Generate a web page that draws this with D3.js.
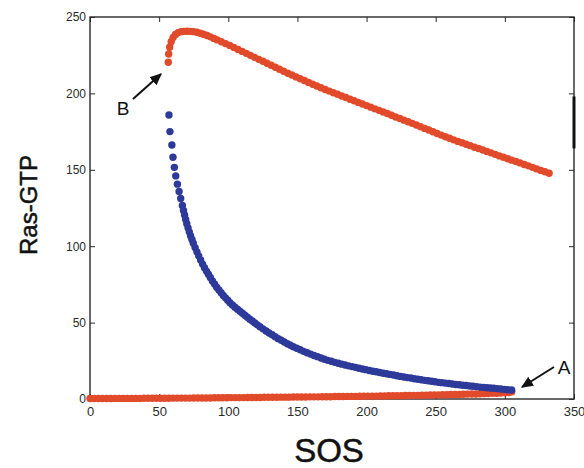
<!DOCTYPE html>
<html>
<head>
<meta charset="utf-8">
<script src="https://cdn.jsdelivr.net/npm/d3@7"></script>
<style>
  html, body { margin: 0; padding: 0; background: #fff; }
  svg { display: block; }
  text { font-family: "Liberation Sans", Arial, sans-serif; }
</style>
</head>
<body>
<svg id="chart" width="584" height="468"></svg>
<script>
// Steady-state Ras-GTP versus SOS: two stable branches (red) and the unstable branch (blue)
const xTicks = [0, 50, 100, 150, 200, 250, 300, 350];
const yTicks = [0, 50, 100, 150, 200, 250];

// Upper stable branch (high Ras-GTP), starting at the fold point B
const upperSOS = [56.6, 56.9, 57.6, 58.7, 60.1, 61.8, 63.7, 65.8, 68.0, 70.3, 72.6, 74.9, 77.3, 79.7, 82.1, 84.6, 87.1, 89.6, 92.0,
  95, 98, 101, 104, 107, 110, 113, 116, 119, 122, 125, 128, 131, 134, 137, 140, 143, 146, 149, 152, 155, 158, 161, 164,
  167, 170, 173, 176, 179, 182, 185, 188, 191, 194, 197, 200, 203, 206, 209, 212, 215, 218, 221, 224, 227, 230, 233, 236,
  239, 242, 245, 248, 251, 254, 257, 260, 263, 266, 269, 272, 275, 278, 281, 284, 287, 290, 293, 296, 299, 302, 305, 308,
  311, 314, 317, 320, 323, 326, 329, 332];
const upperRas = [220.4, 225.8, 230.2, 233.8, 236.6, 238.6, 239.8, 240.4, 240.6, 240.7, 240.6, 240.4, 240.0, 239.4, 238.7, 237.9, 237.0, 236.0, 235.0,
  233.8, 232.6, 231.4, 230.1, 228.8, 227.5, 226.2, 224.9, 223.6, 222.3, 221.0, 219.7, 218.4, 217.1, 215.8, 214.5, 213.2, 212.0, 210.8, 209.6, 208.4, 207.2, 206.0, 204.8,
  203.7, 202.6, 201.5, 200.4, 199.4, 198.3, 197.3, 196.2, 195.2, 194.1, 193.1, 192.0, 191.0, 189.9, 188.9, 187.8, 186.8, 185.7, 184.6, 183.6, 182.5, 181.4, 180.4, 179.3,
  178.2, 177.1, 176.0, 174.9, 173.8, 172.7, 171.6, 170.6, 169.6, 168.6, 167.7, 166.7, 165.8, 164.8, 163.9, 163.0, 162.0, 161.1, 160.1, 159.1, 158.2, 157.2, 156.3, 155.4,
  154.5, 153.5, 152.6, 151.6, 150.6, 149.6, 148.7, 147.7];

// Unstable middle branch, from B down to the fold point A
const middleSOS = [57.1, 57.8, 59.2, 60.0, 61.0, 62.0, 63.2, 64.4, 65.6, 66.8, 67.6, 68.4, 69.2, 70.0, 70.9, 71.8, 72.7, 73.7, 74.7,
  76.0, 77.3, 78.6, 80.0, 81.4, 82.8, 84.2, 85.6, 87.0, 88.5, 90.0, 91.6, 93.2, 94.8, 96.4, 98.0, 99.6, 101.2,
  103.0, 104.8, 106.6, 108.4, 110.2, 112.0, 113.8, 115.6, 117.4, 119.2, 121.0, 122.9, 125.1, 127.3, 129.5, 131.7, 133.9, 136.1,
  138.3, 140.5, 142.7, 144.9, 147.0, 149.5, 152.0, 154.5, 157.0, 159.5, 162.0, 164.5, 167.0, 169.5, 172.0, 174.5, 177.0, 179.5,
  182.0, 184.5, 187.0, 189.5, 192.0, 194.5, 197.0, 199.5, 202.0, 204.5, 207.0, 209.5, 212.0, 214.5, 217.0, 219.5, 222.0, 224.5,
  227.0, 229.5, 232.0, 234.5, 237.0, 239.5, 242.0, 244.5, 247.0, 249.5, 252.0, 254.5, 257.0, 259.5, 262.0, 264.5, 267.0, 269.5,
  272.0, 274.5, 277.0, 279.5, 282.0, 284.5, 287.0, 289.5, 292.0, 294.5, 297.0, 299.5, 302.0, 304.9];
const middleRas = [185.9, 175.0, 166.2, 158.2, 151.6, 146.0, 140.6, 135.8, 131.2, 126.6, 123.4, 120.4, 117.5, 114.7, 112.0, 109.4, 106.9, 104.4, 101.9,
  99.1, 96.3, 93.7, 91.0, 88.3, 85.9, 83.7, 81.6, 79.5, 77.3, 75.3, 73.1, 71.3, 69.5, 67.8, 66.2, 64.6, 63.0,
  61.5, 60.1, 58.7, 57.4, 56.1, 54.8, 53.5, 52.2, 51.0, 49.7, 48.5, 47.3, 45.9, 44.5, 43.2, 42.0, 40.7, 39.5,
  38.4, 37.3, 36.2, 35.2, 34.2, 33.2, 32.2, 31.2, 30.3, 29.4, 28.5, 27.7, 26.8, 26.0, 25.3, 24.7, 24.0, 23.4,
  22.8, 22.3, 21.7, 21.2, 20.7, 20.1, 19.6, 19.2, 18.7, 18.2, 17.8, 17.3, 16.9, 16.5, 16.1, 15.7, 15.2, 14.8,
  14.4, 14.0, 13.7, 13.3, 12.9, 12.6, 12.2, 11.9, 11.6, 11.3, 10.9, 10.7, 10.4, 10.1, 9.8, 9.5, 9.3, 9.0,
  8.8, 8.5, 8.3, 8.1, 7.8, 7.6, 7.4, 7.2, 7.0, 6.8, 6.5, 6.3, 6.1, 5.9];

// Lower stable branch (low Ras-GTP), from SOS = 0 up to A
const lowerSOS = [0, 3, 6, 9, 12, 15, 18, 21, 24, 27, 30,
  33, 36, 39, 42, 45, 48, 51, 54, 57, 60,
  63, 66, 69, 72, 75, 78, 81, 84, 87, 90,
  93, 96, 99, 102, 105, 108, 111, 114, 117, 120,
  123, 126, 129, 132, 135, 138, 141, 144, 147, 150,
  153, 156, 159, 162, 165, 168, 171, 174, 177, 180,
  183, 186, 189, 192, 195, 198, 201, 204, 207, 210,
  213, 216, 219, 222, 225, 228, 231, 234, 237, 240,
  243, 246, 249, 252, 255, 258, 261, 264, 267, 270,
  273, 276, 279, 282, 285, 288, 291, 294, 297, 300,
  303, 305];
const lowerRas = [0.3, 0.3, 0.3, 0.3, 0.3, 0.3, 0.4, 0.4, 0.4, 0.4, 0.4,
  0.4, 0.4, 0.5, 0.5, 0.5, 0.5, 0.5, 0.5, 0.5, 0.6,
  0.6, 0.6, 0.6, 0.6, 0.7, 0.7, 0.7, 0.7, 0.7, 0.8,
  0.8, 0.8, 0.8, 0.9, 0.9, 0.9, 0.9, 1.0, 1.0, 1.0,
  1.0, 1.1, 1.1, 1.1, 1.1, 1.2, 1.2, 1.2, 1.3, 1.3,
  1.3, 1.3, 1.4, 1.4, 1.4, 1.5, 1.5, 1.5, 1.6, 1.6,
  1.6, 1.7, 1.7, 1.7, 1.8, 1.8, 1.9, 1.9, 1.9, 2.0,
  2.0, 2.1, 2.1, 2.2, 2.2, 2.3, 2.3, 2.4, 2.4, 2.5,
  2.5, 2.6, 2.6, 2.7, 2.8, 2.8, 2.9, 3.0, 3.0, 3.1,
  3.2, 3.3, 3.3, 3.4, 3.5, 3.6, 3.7, 3.8, 3.9, 4.1,
  4.3, 4.7];

const stableColor = "#e14a2b";
const unstableColor = "#2d3a9a";
const frameColor = "#2a2a2a";

const svg = d3.select("#chart");
const x = d3.scaleLinear().domain([0, 350]).range([90, 574]);
const y = d3.scaleLinear().domain([0, 250]).range([399, 17]);

// Plot frame
svg.append("rect")
  .attr("x", x(0)).attr("y", y(250))
  .attr("width", x(350) - x(0)).attr("height", y(0) - y(250))
  .attr("fill", "none").attr("stroke", frameColor).attr("stroke-width", 1.4);

// Axes with inward ticks
function styleAxis(g) {
  g.select(".domain").remove();
  g.selectAll(".tick line").attr("stroke", frameColor).attr("stroke-width", 1);
  g.selectAll(".tick text").attr("fill", "#2b2b2b");
}
svg.append("g").attr("transform", `translate(0,${y(0)})`)
  .call(d3.axisBottom(x).tickValues(xTicks).tickSize(-5).tickPadding(8).tickFormat(d3.format("d")))
  .call(styleAxis)
  .selectAll("text").style("font-size", "13px");
svg.append("g").attr("transform", `translate(0,${y(250)})`)
  .call(d3.axisTop(x).tickValues(xTicks).tickSize(-5).tickFormat(""))
  .call(styleAxis);
svg.append("g").attr("transform", `translate(${x(0)},0)`)
  .call(d3.axisLeft(y).tickValues(yTicks).tickSize(-5).tickPadding(4).tickFormat(d3.format("d")))
  .call(styleAxis)
  .selectAll("text").style("font-size", "12px");
svg.append("g").attr("transform", `translate(${x(350)},0)`)
  .call(d3.axisRight(y).tickValues(yTicks).tickSize(-5).tickFormat(""))
  .call(styleAxis);

// heavier stroke on part of the right edge
svg.append("line")
  .attr("x1", x(350)).attr("x2", x(350))
  .attr("y1", y(198)).attr("y2", y(164))
  .attr("stroke", "#111").attr("stroke-width", 3);

// Branches
function branch(sos, ras, color) {
  svg.append("g").selectAll("circle")
    .data(sos.map((s, i) => [s, ras[i]]))
    .join("circle")
    .attr("cx", d => x(d[0]))
    .attr("cy", d => y(d[1]))
    .attr("r", 3.7)
    .attr("fill", color);
}
branch(lowerSOS, lowerRas, stableColor);
branch(middleSOS, middleRas, unstableColor);
branch(upperSOS, upperRas, stableColor);

// Fold-point annotations
const defs = svg.append("defs");
defs.append("marker")
  .attr("id", "head").attr("viewBox", "0 0 10 10")
  .attr("refX", 9).attr("refY", 5)
  .attr("markerWidth", 6).attr("markerHeight", 6)
  .attr("markerUnits", "strokeWidth")
  .attr("orient", "auto")
  .append("path").attr("d", "M0,0.5 L10,5 L0,9.5 Z").attr("fill", "#111");

svg.append("line")
  .attr("x1", 133).attr("y1", 99).attr("x2", 161).attr("y2", 74)
  .attr("stroke", "#111").attr("stroke-width", 2).attr("marker-end", "url(#head)");
svg.append("text").attr("x", 123).attr("y", 115)
  .attr("text-anchor", "middle").style("font-size", "19px").attr("fill", "#111").text("B");

svg.append("line")
  .attr("x1", 554).attr("y1", 367).attr("x2", 522).attr("y2", 387)
  .attr("stroke", "#111").attr("stroke-width", 2).attr("marker-end", "url(#head)");
svg.append("text").attr("x", 564).attr("y", 374)
  .attr("text-anchor", "middle").style("font-size", "19px").attr("fill", "#111").text("A");

// Axis titles
svg.append("text")
  .attr("transform", "translate(37,205) rotate(-90)")
  .attr("text-anchor", "middle")
  .style("font-size", "24px").attr("fill", "#111")
  .attr("stroke", "#111").attr("stroke-width", 0.5)
  .text("Ras-GTP");
svg.append("text")
  .attr("x", 329).attr("y", 462)
  .attr("text-anchor", "middle")
  .style("font-size", "33px").attr("fill", "#111")
  .attr("stroke", "#111").attr("stroke-width", 0.5)
  .text("SOS");
</script>
</body>
</html>
